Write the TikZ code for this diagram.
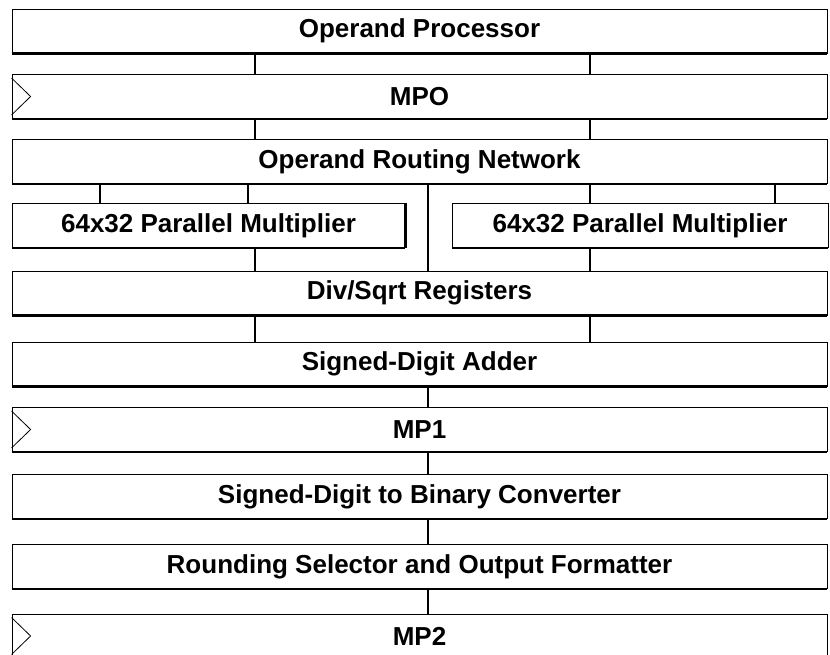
\documentclass[tikz,border=0pt]{standalone}
\usepackage{fontspec}
\setmainfont{Liberation Sans}
\usetikzlibrary{positioning}
\tikzset{
  stage/.style={draw, line width=0.8pt, minimum width=815pt, minimum height=44pt,
    inner sep=0pt, font=\fontsize{26}{28}\selectfont\bfseries},
  link/.style={line width=1.5pt},
  shadow/.style={line width=2.6pt},
  clock/.style={line width=0.8pt},
}

\begin{document}
\begin{tikzpicture}[x=1pt,y=-1pt]
    \useasboundingbox (0,0) rectangle (830,655);

    % Columns used by the connectors
    \coordinate (xl) at (255,0);
    \coordinate (xm) at (428,0);
    \coordinate (xr) at (590,0);
    \coordinate (xa) at (100,0);
    \coordinate (xb) at (248,0);
    \coordinate (xc) at (775,0);

    % Stages
    \node[stage] (op)  at (419.5,31)    {Operand Processor};
    \node[stage] (mpo) at (419.5,96.5)  {MPO};
    \node[stage] (orn) at (419.5,161.5) {Operand Routing Network};
    \node[stage, minimum width=393pt] (mula) at (208.5,225.5) {64x32 Parallel Multiplier};
    \node[stage, minimum width=376pt] (mulb) at (640,225.5)   {64x32 Parallel Multiplier};
    \node[stage] (ds)  at (419.5,293)   {Div/Sqrt Registers};
    \node[stage] (sda) at (419.5,364)   {Signed-Digit Adder};
    \node[stage] (mp1) at (419.5,429.5) {MP1};
    \node[stage] (sdb) at (419.5,496.5) {Signed-Digit to Binary Converter};
    \node[stage] (rs)  at (419.5,566.5) {Rounding Selector and Output Formatter};
    \node[stage] (mp2) at (419.5,636)   {MP2};

    % Heavy bottom edges
    \foreach \n in {op,mpo,orn,mula,mulb,ds,sda,mp1,sdb,rs,mp2}
        \draw[shadow] (\n.south west) -- (\n.south east);
    \draw[shadow] (mula.north east) -- (mula.south east);

    % Clock marks of the registers
    \foreach \n in {mpo,mp1,mp2}
        \draw[clock] ([yshift=-4pt]\n.north west) -- ([xshift=19pt]\n.west) -- ([yshift=4pt]\n.south west);

    % Connectors
    \foreach \c in {xl,xr} {
        \draw[link] (op.south -| \c) -- (mpo.north -| \c);
        \draw[link] (mpo.south -| \c) -- (orn.north -| \c);
        \draw[link] (ds.south -| \c) -- (sda.north -| \c);
    }
    \draw[link] (orn.south -| xa) -- (mula.north -| xa);
    \draw[link] (orn.south -| xb) -- (mula.north -| xb);
    \draw[link] (orn.south -| xr) -- (mulb.north -| xr);
    \draw[link] (orn.south -| xc) -- (mulb.north -| xc);
    \draw[link] (orn.south -| xm) -- (ds.north -| xm);
    \draw[link] (mula.south -| xl) -- (ds.north -| xl);
    \draw[link] (mulb.south -| xr) -- (ds.north -| xr);
    \draw[link] (sda.south -| xm) -- (mp1.north -| xm);
    \draw[link] (mp1.south -| xm) -- (sdb.north -| xm);
    \draw[link] (sdb.south -| xm) -- (rs.north -| xm);
    \draw[link] (rs.south -| xm) -- (mp2.north -| xm);
\end{tikzpicture}
\end{document}
